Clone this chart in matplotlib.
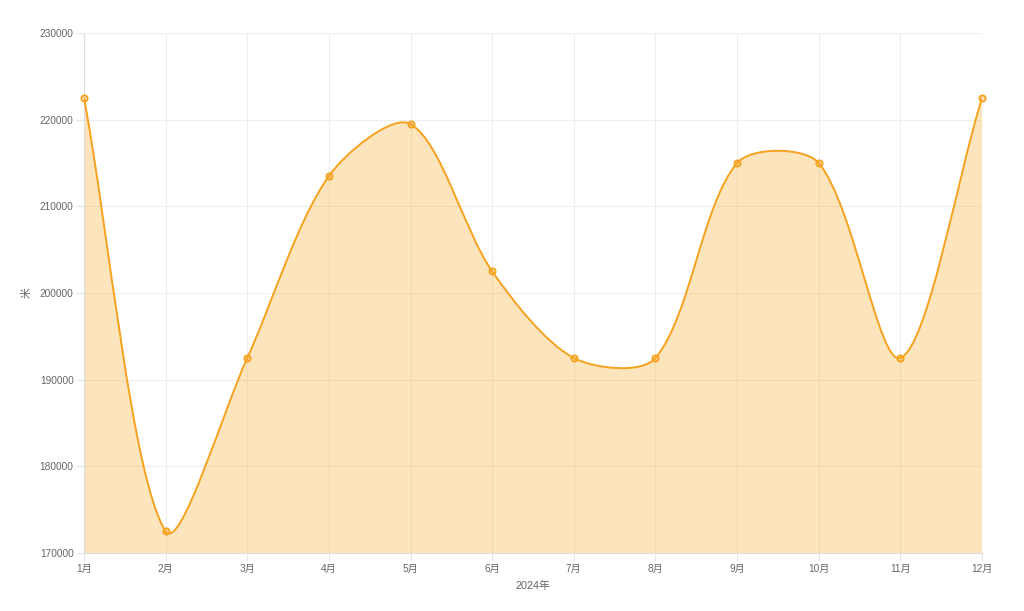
import numpy as np
import matplotlib
matplotlib.use("Agg")
import matplotlib.pyplot as plt
from matplotlib.path import Path
from matplotlib.patches import PathPatch

plt.rcParams['font.family'] = ['Liberation Sans', 'Noto Sans CJK SC', 'DejaVu Sans']

months = ['1月', '2月', '3月', '4月', '5月', '6月', '7月', '8月', '9月', '10月', '11月', '12月']
values = [222500, 172500, 192500, 213500, 219500, 202500, 192500, 192500, 215000, 215000, 192500, 222500]
y_ticks = [170000, 180000, 190000, 200000, 210000, 220000, 230000]
x_title = '2024年'
y_title = '米'

line_color = '#F5A21F'
fill_color = (246/255, 166/255, 35/255, 0.3)
text_color = '#666666'
grid_color = '#EEEEEE'

fig = plt.figure(figsize=(10.24, 6.11), dpi=100)
ax = fig.add_axes([84/1024, 1-553/611, (982-84)/1024, (553-33)/611])
x = np.arange(len(months))
ax.set_xlim(0, len(months)-1)
ax.set_ylim(y_ticks[0], y_ticks[-1])

# Chart.js-style bezier spline computed in pixel space
fig.canvas.draw()
trans = ax.transData
pts = trans.transform(np.column_stack([x, values]))
n = len(pts)
t = 0.3
cp_prev = pts.copy()
cp_next = pts.copy()
for i in range(n):
    p0 = pts[i-1] if i > 0 else pts[i]
    p1 = pts[i]
    p2 = pts[i+1] if i < n-1 else pts[i]
    d01 = np.hypot(*(p1-p0))
    d12 = np.hypot(*(p2-p1))
    s01 = d01/(d01+d12) if (d01+d12) else 0
    s12 = d12/(d01+d12) if (d01+d12) else 0
    cp_prev[i] = p1 - t*s01*(p2-p0)
    cp_next[i] = p1 + t*s12*(p2-p0)
bbox = ax.get_window_extent()
for arr in (cp_prev, cp_next):
    arr[:, 0] = np.clip(arr[:, 0], bbox.x0, bbox.x1)
    arr[:, 1] = np.clip(arr[:, 1], bbox.y0, bbox.y1)

inv = trans.inverted()
cpp = inv.transform(cp_prev)
cpn = inv.transform(cp_next)
verts = [(x[0], values[0])]
codes = [Path.MOVETO]
for i in range(n-1):
    verts += [tuple(cpn[i]), tuple(cpp[i+1]), (x[i+1], values[i+1])]
    codes += [Path.CURVE4]*3
line_path = Path(verts, codes)
fill_verts = verts + [(x[-1], y_ticks[0]), (x[0], y_ticks[0]), (x[0], values[0])]
fill_codes = codes + [Path.LINETO, Path.LINETO, Path.CLOSEPOLY]
ax.add_patch(PathPatch(Path(fill_verts, fill_codes), facecolor=fill_color, edgecolor='none', zorder=2))
ax.add_patch(PathPatch(line_path, facecolor='none', edgecolor=line_color, linewidth=1.4, zorder=3))
ax.plot(x, values, linestyle='none', marker='o', markersize=4.5, markerfacecolor=(246/255, 166/255, 35/255, 0.35),
        markeredgecolor=line_color, markeredgewidth=1.3, zorder=4, clip_on=False)

ax.set_xticks(x)
ax.set_xticklabels(months)
ax.set_yticks(y_ticks)
ax.set_yticklabels([str(v) for v in y_ticks])
ax.grid(True, color=grid_color, linewidth=0.8, zorder=0)
ax.set_axisbelow(True)
for s in ['top', 'right']:
    ax.spines[s].set_visible(False)
for s in ['left', 'bottom']:
    ax.spines[s].set_color('#DDDDDD')
    ax.spines[s].set_linewidth(0.8)
ax.tick_params(axis='both', colors=text_color, labelsize=7.3, length=6, color='#E6E6E6', width=0.8)
ax.tick_params(axis='x', pad=2)
ax.tick_params(axis='y', pad=1.5)
ax.set_xlabel(x_title, color=text_color, fontsize=7.8, labelpad=5)
ax.set_ylabel(y_title, color=text_color, fontsize=7.8, labelpad=6)

fig.savefig('out.png', dpi=100)
